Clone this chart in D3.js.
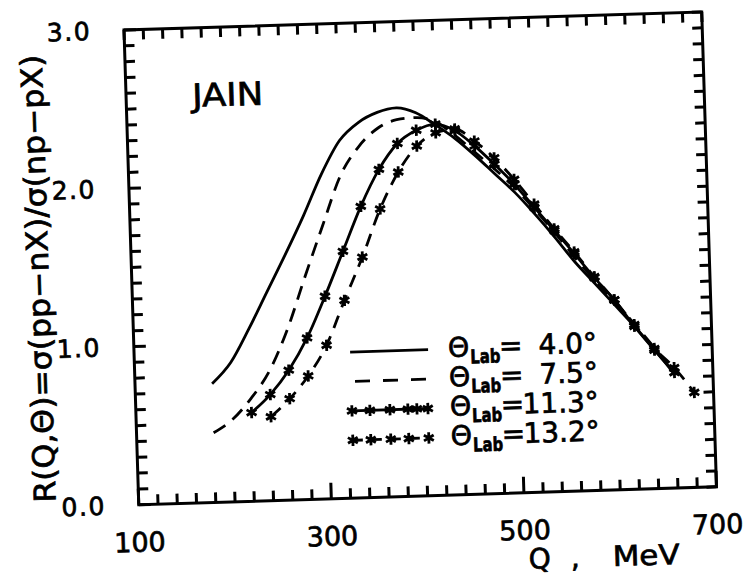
<!DOCTYPE html>
<html>
<head>
<meta charset="utf-8">
<script src="https://cdn.jsdelivr.net/npm/d3@7"></script>
<style>
  body { margin: 0; background: #fff; }
  svg { display: block; font-family: 'DejaVu Sans', sans-serif; }
  .ink { fill: #000; stroke: #000; stroke-width: 0.7px; }
</style>
</head>
<body>
<svg width="745" height="576"></svg>
<script>
// ratio R(Q,theta) = sigma(pp->nX)/sigma(np->pX) for four lab angles

// theta_lab = 4.0 deg
var q40 = [180, 200, 220, 240, 260, 280, 300, 320, 340, 360, 380, 400, 420, 440, 460, 480, 500, 520, 540, 560, 580, 600, 620, 640, 660];
var r40 = [0.75, 0.88, 1.09, 1.32, 1.55, 1.79, 2.05, 2.26, 2.37, 2.43, 2.455, 2.42, 2.34, 2.25, 2.14, 2.02, 1.90, 1.76, 1.61, 1.45, 1.31, 1.17, 1.03, 0.88, 0.72];

// theta_lab = 7.5 deg
var q75 = [180, 200, 220, 240, 260, 280, 300, 320, 340, 360, 380, 400, 420, 440, 460, 480, 500, 520, 540, 560, 580, 600, 620, 640, 660];
var r75 = [0.44, 0.52, 0.65, 0.82, 1.08, 1.41, 1.73, 2.04, 2.22, 2.33, 2.38, 2.39, 2.36, 2.27, 2.16, 2.05, 1.93, 1.79, 1.64, 1.48, 1.33, 1.19, 1.045, 0.89, 0.73];

// theta_lab = 11.3 deg
var q113 = [220, 240, 260, 280, 300, 320, 340, 360, 380, 400, 420, 440, 460, 480, 500, 520, 540, 560, 580, 600, 620, 640, 660];
var r113 = [0.56, 0.67, 0.82, 1.02, 1.28, 1.56, 1.84, 2.07, 2.23, 2.31, 2.345, 2.30, 2.20, 2.08, 1.95, 1.80, 1.65, 1.50, 1.345, 1.20, 1.03, 0.875, 0.73];

// theta_lab = 13.2 deg
var q132 = [240, 260, 280, 300, 320, 340, 360, 380, 400, 420, 440, 460, 480, 500, 520, 540, 560, 580, 600, 620, 640, 660, 680];
var r132 = [0.53, 0.64, 0.78, 0.97, 1.25, 1.52, 1.82, 2.05, 2.21, 2.29, 2.31, 2.23, 2.12, 1.98, 1.82, 1.66, 1.51, 1.35, 1.20, 1.04, 0.885, 0.76, 0.60];

var xTickLabels = [100, 300, 500, 700];
var yTickLabels = [0, 1, 2, 3];
var legendLabels = ['4.0°', '7.5°', '11.3°', '13.2°'];

var plotWidth = 578;   // frame width in pixels
var plotHeight = 475;  // frame height in pixels
var minorTick = 10, majorTick = 16;
var tickW = 3;

var svg = d3.select('svg');
svg.append('rect').attr('width', 745).attr('height', 576).attr('fill', '#fff');

// the whole sheet sits slightly tilted
var plotG = svg.append('g')
    .attr('transform', 'translate(124,30) rotate(-1.78)');

var xScale = d3.scaleLinear()
    .domain([100, 700])
    .range([0, plotWidth]);

var yScale = d3.scaleLinear()
    .domain([0, 3])
    .range([plotHeight, 0]);

// tick positions: every 20 MeV along Q, every 0.1 along R
var xMinor = d3.range(31).map(i => 100 + i * 20);
var yMinor = d3.range(31).map(i => i / 10);

// inward ticks on all four sides, as plain svg lines
function tick(x1, y1, x2, y2){
    plotG.append('line')
        .attr('x1', x1).attr('y1', y1)
        .attr('x2', x2).attr('y2', y2)
        .style('stroke', 'black')
        .style('stroke-width', tickW + 'px');
}
xMinor.forEach(function(v){
    var x = xScale(v);
    var len = xTickLabels.indexOf(v) >= 0 ? majorTick : minorTick;
    tick(x, plotHeight, x, plotHeight - len);
    tick(x, 0, x, minorTick);
});
yMinor.forEach(function(v){
    var y = yScale(v);
    var len = yTickLabels.indexOf(Math.round(v * 10) / 10) >= 0 ? majorTick - 4 : minorTick;
    tick(0, y, len, y);
    tick(plotWidth, y, plotWidth - minorTick, y);
});

// frame
plotG.append('rect')
    .attr('width', plotWidth)
    .attr('height', plotHeight)
    .style('fill', 'none')
    .style('stroke', 'black')
    .style('stroke-width', '3px');

// tick labels
plotG.selectAll('.xLabel')
    .data(xTickLabels)
    .enter().append('text')
    .attr('class', 'xLabel ink')
    .attr('x', d => xScale(d))
    .attr('y', plotHeight + 47)
    .attr('text-anchor', 'middle')
    .style('font-size', '27px')
    .text(d => d);

plotG.selectAll('.yLabel')
    .data(yTickLabels)
    .enter().append('text')
    .attr('class', 'yLabel ink')
    .attr('x', -33)
    .attr('y', d => yScale(d) + 9)
    .attr('text-anchor', 'end')
    .style('font-size', '25px')
    .style('letter-spacing', '1.5px')
    .text(d => d3.format('.1f')(d));

// axis titles
var xTitle = plotG.append('g').attr('class', 'ink').style('font-size', '28px');
xTitle.append('text').attr('x', 388).attr('y', plotHeight + 76).text('Q');
xTitle.append('text').attr('x', 430).attr('y', plotHeight + 76).text(',');
xTitle.append('text').attr('x', 472).attr('y', plotHeight + 76)
    .attr('textLength', 67).attr('lengthAdjust', 'spacingAndGlyphs').text('MeV');

plotG.append('text')
    .attr('class', 'ink')
    .attr('transform', 'translate(-83,246) rotate(-90)')
    .attr('text-anchor', 'middle')
    .attr('textLength', 448)
    .attr('lengthAdjust', 'spacingAndGlyphs')
    .style('font-size', '30px')
    .text('R(Q,Θ)=σ(pp−nX)/σ(np−pX)');

plotG.append('text')
    .attr('class', 'ink')
    .attr('x', 66)
    .attr('y', 79)
    .attr('textLength', 71)
    .attr('lengthAdjust', 'spacingAndGlyphs')
    .style('font-size', '32px')
    .text('JAIN');

// curves
var series = [
    {q: q40, r: r40, dash: null, stars: false},
    {q: q75, r: r75, dash: '14,9', stars: false},
    {q: q113, r: r113, dash: null, stars: true},
    {q: q132, r: r132, dash: '13,9', stars: true}
];

var dataLine = d3.line()
    .x(d => xScale(d[0]))
    .y(d => yScale(d[1]))
    .curve(d3.curveMonotoneX);

var star = d3.symbol().type(d3.symbolAsterisk).size(90);

series.forEach(function(s){
    var pts = s.q.map((q, i) => [q, s.r[i]]);
    var path = plotG.append('path')
        .attr('d', dataLine(pts))
        .attr('fill', 'none')
        .attr('stroke', '#000')
        .attr('stroke-width', 2.8);
    if (s.dash){
        path.attr('stroke-dasharray', s.dash);
    }
    if (s.stars){
        plotG.selectAll(null)
            .data(pts)
            .enter().append('path')
            .attr('d', star)
            .attr('transform', d => `translate(${xScale(d[0])},${yScale(d[1])})`)
            .attr('fill', 'none')
            .attr('stroke', '#000')
            .attr('stroke-width', 2.8);
    }
});

// legend
var legendG = plotG.append('g').attr('transform', 'translate(216,329)');
var rowStep = 29.4;
var starSpots = [[0, 18, 38, 56, 65, 76], [0, 18, 38, 56, 76]];

legendLabels.forEach(function(lab, i){
    var y = i * rowStep;
    var s = series[i];
    var seg = legendG.append('line')
        .attr('x1', 0).attr('x2', 78)
        .attr('y1', y).attr('y2', y)
        .attr('stroke', '#000')
        .attr('stroke-width', 2.8);
    if (i === 1) seg.attr('stroke-dasharray', '15,13').attr('stroke-dashoffset', -4);
    if (i === 3) seg.attr('stroke-dasharray', '10,9');
    if (s.stars){
        legendG.selectAll(null)
            .data(starSpots[i - 2])
            .enter().append('path')
            .attr('d', star)
            .attr('transform', d => `translate(${d},${y})`)
            .attr('fill', 'none')
            .attr('stroke', '#000')
            .attr('stroke-width', 2.8);
    }
    legendG.append('text')
        .attr('class', 'ink')
        .attr('x', 98).attr('y', y + 8)
        .style('font-size', '27px')
        .text('Θ');
    legendG.append('text')
        .attr('class', 'ink')
        .attr('x', 120).attr('y', y + 15)
        .attr('textLength', 30)
        .attr('lengthAdjust', 'spacingAndGlyphs')
        .style('font-size', '19px')
        .style('font-weight', 'bold')
        .text('Lab');
    legendG.append('text')
        .attr('class', 'ink')
        .attr('x', 149).attr('y', y + 8)
        .style('font-size', '28px')
        .text('=');
    legendG.append('text')
        .attr('class', 'ink')
        .attr('x', 247).attr('y', y + 8)
        .attr('text-anchor', 'end')
        .style('font-size', '28px')
        .text(lab);
});
</script>
</body>
</html>
